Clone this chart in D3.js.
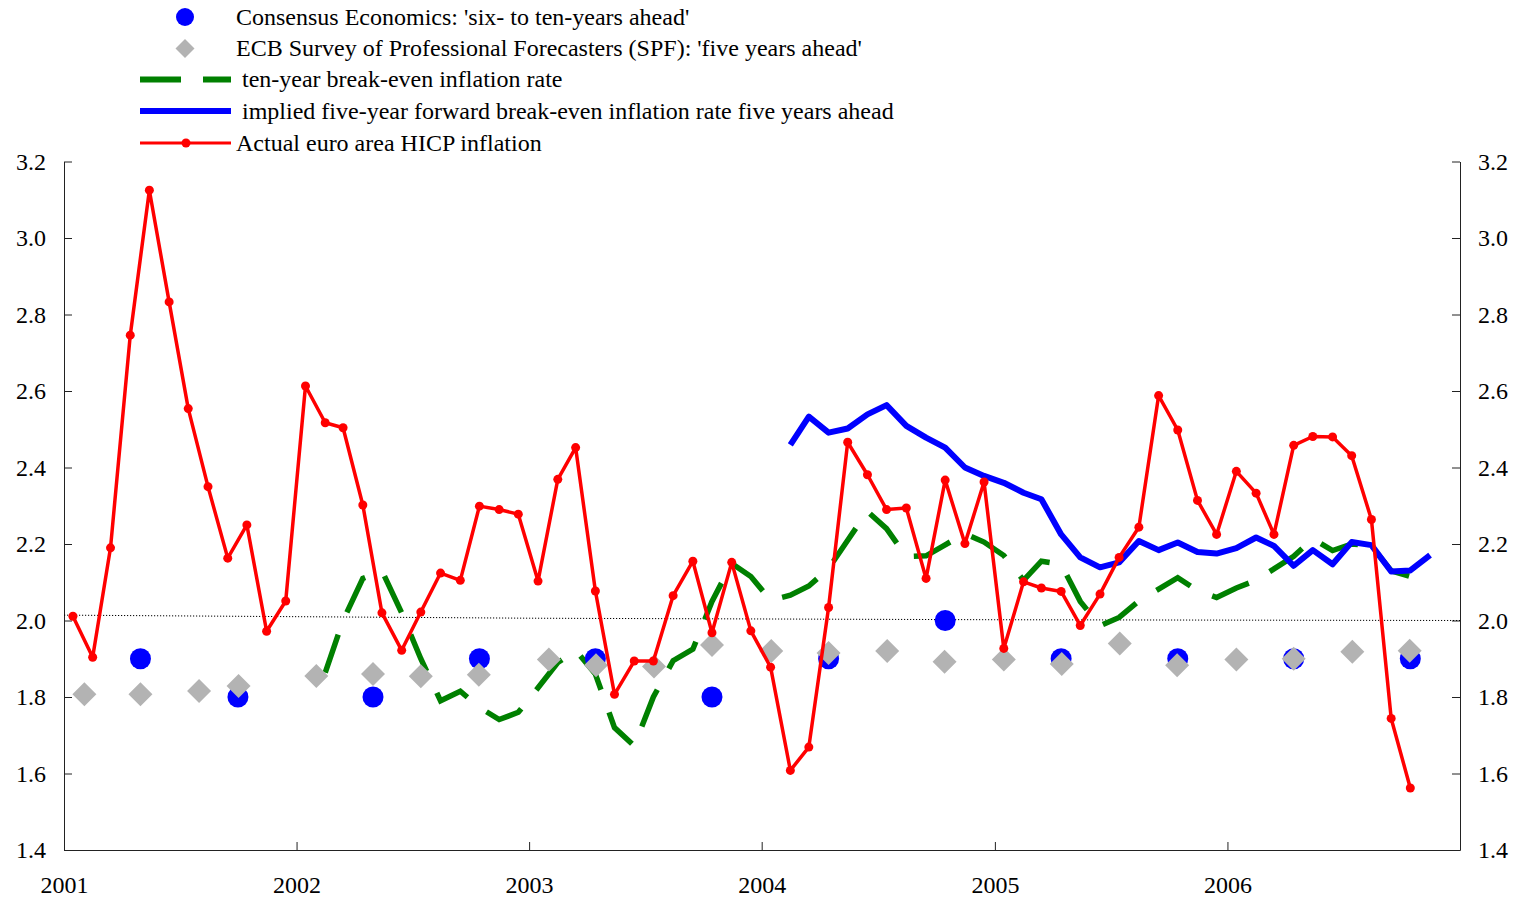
<!DOCTYPE html>
<html>
<head>
<meta charset="utf-8">
<script src="https://cdn.jsdelivr.net/npm/d3@7"></script>
<style>
  body { margin: 0; background: #fff; }
  svg text { font-family: "Liberation Serif", "Times New Roman", serif; fill: #000; }
</style>
</head>
<body>
<svg id="chart" width="1513" height="898"></svg>
<script>
// ---- data ----
var yearLabels = [2001, 2002, 2003, 2004, 2005, 2006];
var yTicks = [1.4, 1.6, 1.8, 2.0, 2.2, 2.4, 2.6, 2.8, 3.0, 3.2];

// actual euro area HICP inflation, monthly Jan 2001 - Oct 2006
var hicpStart = '2001-01';
var hicp = [
  2.011, 1.904, 2.190, 2.746, 3.125, 2.833, 2.554, 2.350, 2.163, 2.250, 1.972, 2.051,
  2.613, 2.517, 2.504, 2.302, 2.020, 1.922, 2.022, 2.124, 2.105, 2.299, 2.290, 2.278,
  2.103, 2.369, 2.452, 2.077, 1.807, 1.894, 1.894, 2.065, 2.155, 1.968, 2.152, 1.973,
  1.878, 1.608, 1.669, 2.034, 2.466, 2.381, 2.290, 2.294, 2.110, 2.367, 2.201, 2.362,
  1.927, 2.101, 2.085, 2.076, 1.987, 2.069, 2.165, 2.244, 2.588, 2.498, 2.314, 2.225,
  2.390, 2.333, 2.225, 2.458, 2.481, 2.480, 2.431, 2.264, 1.744, 1.562
];

// ten-year break-even inflation rate, monthly Feb 2002 - Nov 2006
var bei10Start = '2002-02';
var bei10 = [
  1.864, 2.000, 2.110, 2.130, 2.020, 1.900, 1.790, 1.815, 1.773, 1.741, 1.760,
  1.824, 1.890, 1.922, 1.860, 1.720, 1.672, 1.800, 1.895, 1.925, 2.050, 2.149, 2.115,
  2.053, 2.066, 2.090, 2.136, 2.210, 2.285, 2.240, 2.167, 2.169, 2.198, 2.227, 2.205,
  2.170, 2.105, 2.155, 2.147, 2.050, 1.986, 2.008, 2.051, 2.082, 2.112, 2.078, 2.060,
  2.085, 2.105, 2.135, 2.168, 2.214, 2.183, 2.200, 2.195, 2.130, 2.115, 2.115
];

// implied five-year forward break-even five years ahead, monthly Feb 2004 - Nov 2006
var fwdStart = '2004-02';
var fwd = [
  2.459, 2.533, 2.491, 2.502, 2.539, 2.563, 2.509, 2.478, 2.452, 2.400, 2.378,
  2.360, 2.334, 2.317, 2.225, 2.165, 2.139, 2.152, 2.208, 2.184, 2.204, 2.179, 2.175,
  2.189, 2.217, 2.195, 2.143, 2.184, 2.147, 2.205, 2.197, 2.128, 2.131, 2.171
];

// Consensus Economics 'six- to ten-years ahead'
var ceDates = ['2001-05-01', '2001-10-01', '2002-05-01', '2002-10-15', '2003-04-15', '2003-10-15',
  '2004-04-15', '2004-10-15', '2005-04-15', '2005-10-15', '2006-04-15', '2006-10-15'];
var ceValues = [1.9, 1.8, 1.8, 1.9, 1.9, 1.8, 1.9, 2.0, 1.9, 1.9, 1.9, 1.9];

// ECB SPF 'five years ahead'
var spfDates = ['2001-02-02', '2001-05-01', '2001-08-01', '2001-10-02', '2002-02-01', '2002-05-01',
  '2002-07-15', '2002-10-14', '2003-02-01', '2003-04-16', '2003-07-16', '2003-10-15',
  '2004-01-16', '2004-04-15', '2004-07-16', '2004-10-14', '2005-01-15', '2005-04-16',
  '2005-07-16', '2005-10-14', '2006-01-15', '2006-04-15', '2006-07-16', '2006-10-14'];
var spfValues = [1.807, 1.807, 1.816, 1.829, 1.855, 1.860, 1.854, 1.858, 1.898, 1.883, 1.880, 1.936,
  1.920, 1.915, 1.920, 1.892, 1.898, 1.886, 1.940, 1.883, 1.898, 1.900, 1.918, 1.921];

// dotted reference line near 2%
var refDates = ['2001-01-01', '2003-01-01', '2005-01-01', '2007-01-01'];
var refValues = [2.014, 2.006, 2.002, 2.000];

var legendItems = [
  "Consensus Economics: 'six- to ten-years ahead'",
  "ECB Survey of Professional Forecasters (SPF): 'five years ahead'",
  "ten-year break-even inflation rate",
  "implied five-year forward break-even inflation rate five years ahead",
  "Actual euro area HICP inflation"
];

// ---- helpers ----
var parseDay = d3.timeParse('%Y-%m-%d');
var parseMonth = d3.timeParse('%Y-%m');
var serif = '"Liberation Serif", "Times New Roman", serif';

function monthly(start, values) {
    // points sit at the middle of each month
    var s = parseMonth(start);
    return values.map(function (v, i) {
        var m = d3.timeMonth.offset(s, i);
        return {date: d3.timeDay.offset(m, 14), value: v};
    });
}

function dated(dates, values) {
    return dates.map(function (d, i) {
        return {date: parseDay(d), value: values[i]};
    });
}

function translateSVG(x, y) {
    return 'translate(' + x + ',' + y + ')';
}

// ---- scales ----
var svg = d3.select('#chart');
var plotLeft = 64, plotRight = 1460, plotTop = 161.5, plotBottom = 850;

var x = d3.scaleTime()
    .domain([new Date(2001, 0, 1), new Date(2007, 0, 1)])
    .range([plotLeft, plotRight]);
var y = d3.scaleLinear()
    .domain([1.4, 3.2])
    .range([plotBottom, plotTop]);

var line = d3.line()
    .x(function (d) { return x(d.date); })
    .y(function (d) { return y(d.value); });

// ---- axes ----
var fmt = d3.format('.1f');

var axL = svg.append('g').attr('transform', translateSVG(plotLeft, 0))
    .call(d3.axisLeft(y).tickValues(yTicks).tickFormat(fmt).tickSize(-8).tickSizeOuter(0).tickPadding(18));
var axR = svg.append('g').attr('transform', translateSVG(plotRight, 0))
    .call(d3.axisRight(y).tickValues(yTicks).tickFormat(fmt).tickSize(-8).tickSizeOuter(0).tickPadding(18));
var axB = svg.append('g').attr('transform', translateSVG(0, plotBottom))
    .call(d3.axisBottom(x)
        .tickValues(yearLabels.map(function (yr) { return new Date(yr, 0, 1); }))
        .tickFormat(d3.timeFormat('%Y')).tickSize(-8).tickSizeOuter(0).tickPadding(26));

[axL, axR, axB].forEach(function (g) {
    g.attr('font-family', null).attr('font-size', null);
    g.selectAll('path, line').attr('stroke', '#222').attr('stroke-width', 1);
    g.selectAll('text').style('font-size', '24px').style('font-family', serif).attr('fill', '#000');
});

// dotted reference line
svg.append('path')
    .datum(dated(refDates, refValues))
    .attr('d', line)
    .attr('fill', 'none')
    .attr('stroke', '#000')
    .attr('stroke-width', 1)
    .attr('stroke-dasharray', '1.2,1.8');

// ---- series ----
svg.append('path')
    .datum(monthly(bei10Start, bei10))
    .attr('d', line)
    .attr('fill', 'none')
    .attr('stroke', '#008000')
    .attr('stroke-width', 5.5)
    .attr('stroke-dasharray', '40,24');

svg.append('path')
    .datum(monthly(fwdStart, fwd))
    .attr('d', line)
    .attr('fill', 'none')
    .attr('stroke', '#0000ff')
    .attr('stroke-width', 6)
    .attr('stroke-linejoin', 'round');

svg.append('g').selectAll('circle')
    .data(dated(ceDates, ceValues))
    .enter()
    .append('circle')
    .attr('cx', function (d) { return x(d.date); })
    .attr('cy', function (d) { return y(d.value); })
    .attr('r', 10.5)
    .attr('fill', '#0000ff');

var diamond = d3.symbol().type(d3.symbolSquare).size(288);
svg.append('g').selectAll('path')
    .data(dated(spfDates, spfValues))
    .enter()
    .append('path')
    .attr('d', diamond)
    .attr('transform', function (d) {
        return translateSVG(x(d.date), y(d.value)) + ' rotate(45)';
    })
    .attr('fill', '#b3b3b3');

var hicpData = monthly(hicpStart, hicp);
svg.append('path')
    .datum(hicpData)
    .attr('d', line)
    .attr('fill', 'none')
    .attr('stroke', '#ff0000')
    .attr('stroke-width', 3.5)
    .attr('stroke-linejoin', 'round');

svg.append('g').selectAll('circle')
    .data(hicpData)
    .enter()
    .append('circle')
    .attr('cx', function (d) { return x(d.date); })
    .attr('cy', function (d) { return y(d.value); })
    .attr('r', 4.5)
    .attr('fill', '#ff0000');

// ---- legend ----
var lg = svg.append('g').classed('legend', true);
var rowY = [17, 48.5, 79.5, 111, 143];
var textX = [236, 236, 242, 242, 236];

lg.append('circle').attr('cx', 185).attr('cy', rowY[0]).attr('r', 9).attr('fill', '#0000ff');
lg.append('path')
    .attr('d', d3.symbol().type(d3.symbolSquare).size(180))
    .attr('transform', translateSVG(185, rowY[1]) + ' rotate(45)')
    .attr('fill', '#b3b3b3');
lg.append('line')
    .attr('x1', 140).attr('x2', 231).attr('y1', rowY[2]).attr('y2', rowY[2])
    .attr('stroke', '#008000').attr('stroke-width', 6).attr('stroke-dasharray', '41,22');
lg.append('line')
    .attr('x1', 140).attr('x2', 231).attr('y1', rowY[3]).attr('y2', rowY[3])
    .attr('stroke', '#0000ff').attr('stroke-width', 6);
lg.append('line')
    .attr('x1', 140).attr('x2', 231).attr('y1', rowY[4]).attr('y2', rowY[4])
    .attr('stroke', '#ff0000').attr('stroke-width', 3);
lg.append('circle').attr('cx', 186).attr('cy', rowY[4]).attr('r', 4.5).attr('fill', '#ff0000');

lg.selectAll('text')
    .data(legendItems)
    .enter()
    .append('text')
    .attr('x', function (d, i) { return textX[i]; })
    .attr('y', function (d, i) { return rowY[i]; })
    .attr('dy', '0.33em')
    .style('font-size', '24px')
    .text(function (d) { return d; });
</script>
</body>
</html>
